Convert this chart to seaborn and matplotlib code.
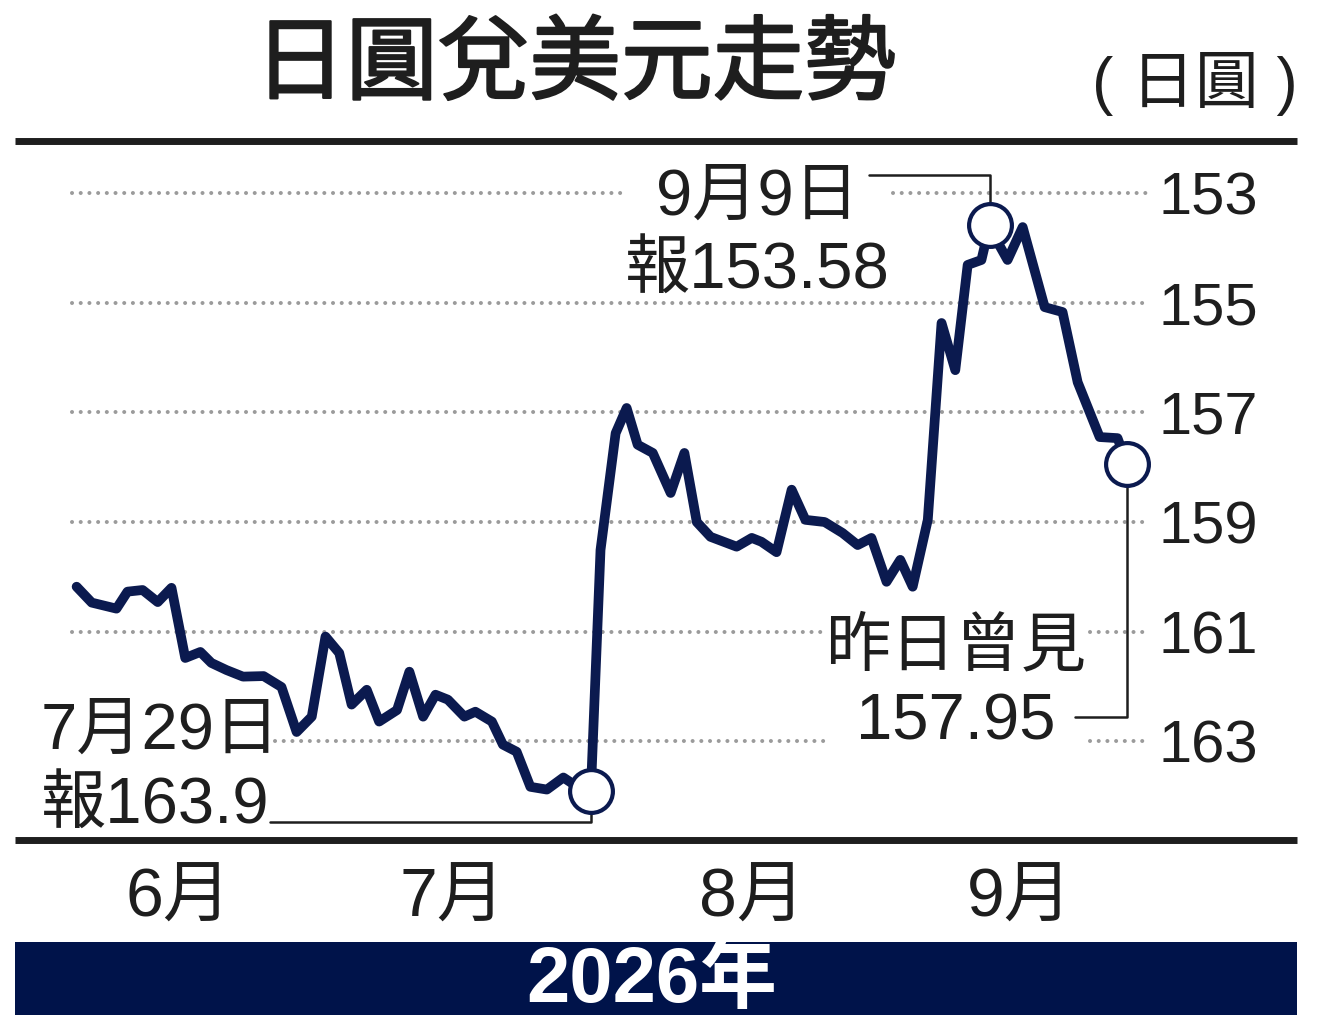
import matplotlib
matplotlib.use('Agg')
import matplotlib.pyplot as plt
import matplotlib.patheffects as pe
import pandas as pd
import seaborn as sns

# 交易日位置 (0 = 7月初) 及 美元兌日圓 收市價
day_pos = [-16.1, -15.0, -13.2, -12.4, -11.3, -10.2, -9.2, -8.2, -7.1, -6.3,
           -5.2, -4.0, -2.5, -1.2, -0.1, 1.0, 2.0, 3.0, 3.9, 5.0,
           5.9, 7.2, 8.1, 9.1, 10.0, 10.9, 12.1, 12.9, 14.1, 14.9,
           15.9, 16.9, 18.1, 19.3, 19.9, 21.3, 22.0, 23.1, 23.9, 24.7,
           25.8, 27.1, 28.1, 29.0, 30.0, 31.9, 33.0, 33.7, 34.8, 35.9,
           36.9, 38.3, 39.6, 40.7, 41.7, 42.8, 43.8, 44.7, 45.8, 46.8,
           47.8, 48.7, 49.7, 50.3, 50.8, 51.6, 52.7, 54.3, 55.6, 56.7,
           58.3, 59.6, 60.3]
usdjpy = [160.18, 160.47, 160.58, 160.27, 160.24, 160.46, 160.20, 161.48, 161.37, 161.57,
          161.70, 161.82, 161.81, 162.01, 162.83, 162.55, 161.09, 161.39, 162.33, 162.06,
          162.64, 162.43, 161.73, 162.55, 162.15, 162.24, 162.55, 162.46, 162.64, 163.06,
          163.19, 163.83, 163.88, 163.66, 163.76, 163.90, 159.51, 157.38, 156.92, 157.59,
          157.74, 158.47, 157.74, 159.00, 159.27, 159.45, 159.29, 159.36, 159.55, 158.41,
          158.96, 159.00, 159.20, 159.42, 159.29, 160.09, 159.69, 160.18, 158.96, 155.37,
          156.23, 154.31, 154.22, 153.58, 153.86, 154.22, 153.62, 155.08, 155.17, 156.45,
          157.45, 157.47, 157.95]
marked = [35, 63, 72]  # 7月29日, 9月9日, 昨日

month_edges = [0, 23, 44]
month_mid = [-8.7, 11.2, 33.0, 52.5]
month_labels = ['6月', '7月', '8月', '9月']
y_ticks = [153, 155, 157, 159, 161, 163]

NAVY = '#0b1a4f'
BAND = '#00134a'
INK = '#1e1e1e'

sns.set_style('white')
plt.rcParams['font.family'] = ['Liberation Sans', 'Noto Sans CJK TC']

fig = plt.figure(figsize=(13.2, 10.35), dpi=100)
ax = fig.add_axes([15 / 1320, 195 / 1035, 1282 / 1320, 699 / 1035])

df = pd.DataFrame({'day': day_pos, 'rate': usdjpy})
pts = df.iloc[marked]

# dotted grid, broken where the notes sit
GL, GR = -16.4, 61.7
grid_runs = {
    153: [(GL, 23.6), (43.3, GR)],
    155: [(GL, GR)],
    157: [(GL, GR)],
    159: [(GL, GR)],
    161: [(GL, 38.3), (57.6, GR)],
    163: [(-1.7, 38.3), (57.6, GR)],
}
for lvl in y_ticks:
    for a, b in grid_runs[lvl]:
        g = ax.hlines(lvl, a, b, colors='#9b9b9b', linewidth=2.9,
                      linestyles=(0, (0.01, 2.15)), zorder=1)
        g.set_capstyle('round')

sns.lineplot(data=df, x='day', y='rate', color=NAVY, linewidth=7,
             estimator=None, sort=False, ax=ax, zorder=4)
sns.scatterplot(data=pts, x='day', y='rate', s=950, color='white',
                edgecolor=NAVY, linewidth=3, ax=ax, zorder=7)

# annotations
note = dict(fontsize=47, linespacing=1.31, color=INK, zorder=5, va='center')
ax.text(33.4, 153.76, '9月9日\n報153.58', ha='center', **note)
ax.text(-18.7, 163.51, '7月29日\n報163.9', ha='left', **note)
ax.text(47.85, 161.97, '昨日曾見\n157.95', ha='center', **note)

x0, y0 = pts['day'].iloc[0], pts['rate'].iloc[0]
x1, y1 = pts['day'].iloc[1], pts['rate'].iloc[1]
x2, y2 = pts['day'].iloc[2], pts['rate'].iloc[2]
ax.plot([41.5, x1, x1], [152.67, 152.67, y1], color=INK, lw=1.8, zorder=6)
ax.plot([-2.0, x0, x0], [164.47, 164.47, y0], color=INK, lw=1.8, zorder=6)
ax.plot([56.5, x2, x2], [162.55, 162.55, y2], color=INK, lw=1.8, zorder=6)

ax.set_xlim(-20.58, 72.65)
ax.set_ylim(164.8, 152.05)
ax.set_xlabel('')
ax.set_ylabel('')
ax.grid(False)

ax.yaxis.tick_right()
ax.set_yticks(y_ticks)
ax.tick_params(axis='y', length=0, pad=-100, labelsize=43, labelcolor=INK)

ax.set_xticks(month_edges)
ax.set_xticklabels([])
ax.set_xticks(month_mid, month_labels, minor=True)
ax.tick_params(axis='x', which='major', length=21, width=2.2, direction='out', color=INK)
ax.tick_params(axis='x', which='minor', length=0, pad=19, labelsize=49, labelcolor=INK)

for side in ['left', 'right']:
    ax.spines[side].set_visible(False)
for side in ['top', 'bottom']:
    ax.spines[side].set_linewidth(5)
    ax.spines[side].set_color(INK)
    ax.spines[side].set_capstyle('butt')

fig.text(575 / 1320, 1 - 68 / 1035, '日圓兌美元走勢', ha='center', va='center',
         fontsize=66, color=INK,
         path_effects=[pe.withStroke(linewidth=1.6, foreground=INK)])
fig.text(1195 / 1320, 1 - 84 / 1035, '( 日圓 )', ha='center', va='center',
         fontsize=46, color=INK)

band = fig.add_axes([15 / 1320, 20 / 1035, 1282 / 1320, 73 / 1035])
band.set_facecolor(BAND)
band.set_xticks([])
band.set_yticks([])
for s in band.spines.values():
    s.set_visible(False)
band.text(0.497, 0.47, '2026年', color='white', fontsize=56, fontweight='bold',
          ha='center', va='center', transform=band.transAxes)

fig.savefig('out.png', dpi=100)
